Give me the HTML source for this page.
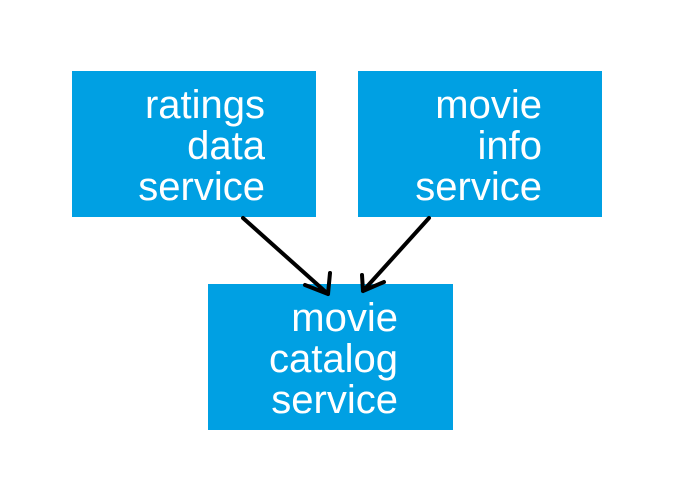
<!DOCTYPE html>
<html><head><style>
body{margin:0;width:700px;height:500px;background:#fff;position:relative;overflow:hidden;font-family:"Liberation Sans",Arial,sans-serif}
.b{position:absolute;background:#00a0e3;color:#fff;font-size:40px;line-height:41px;text-align:right;box-sizing:border-box}
</style></head><body>
<div class="b" style="left:72px;top:71px;width:244px;height:146px;padding:14px 51px 0 0">ratings<br>data<br>service</div>
<div class="b" style="left:358px;top:71px;width:244px;height:146px;padding:14px 60px 0 0">movie<br>info<br>service</div>
<div class="b" style="left:208px;top:284px;width:245px;height:146px;padding:14px 55px 0 0">movie<br>catalog<br>service</div>
<svg width="700" height="500" style="position:absolute;left:0;top:0" fill="none" stroke="#000" stroke-width="4" stroke-linecap="round" stroke-linejoin="round">
<path d="M243 218 L328 294 M330 273 L328 294 L305 285"/>
<path d="M429 218 L363 291 M362 275 L363 291 L384 282"/>
</svg>
</body></html>
